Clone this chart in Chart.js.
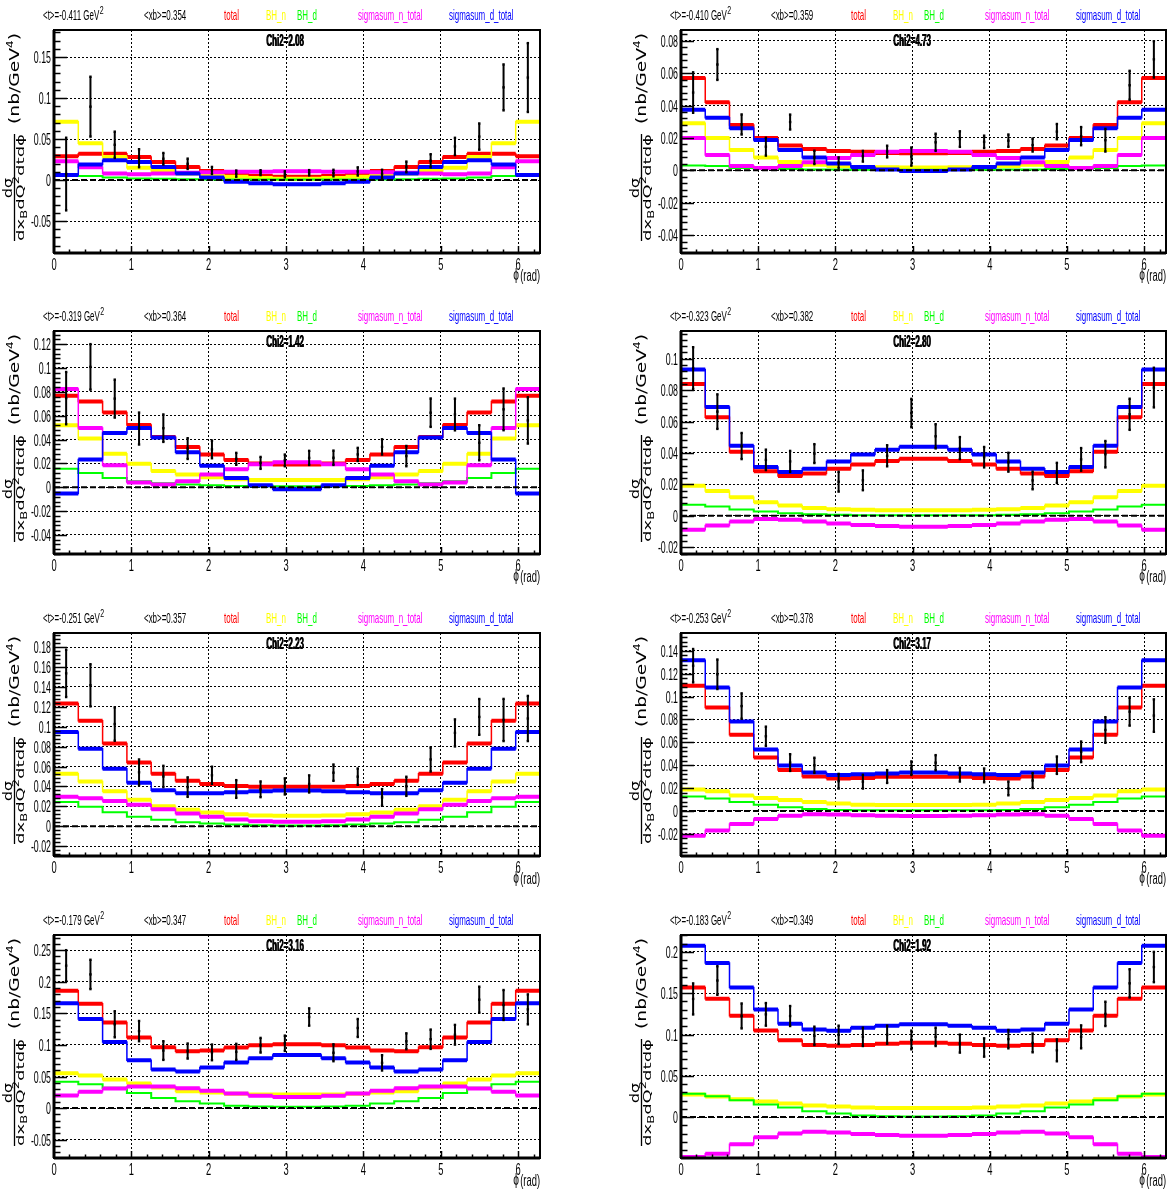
<!DOCTYPE html>
<html><head><meta charset="utf-8">
<script src="https://cdn.jsdelivr.net/npm/chart.js@4.4.1/dist/chart.umd.min.js"></script>
<style>
html,body{margin:0;padding:0;background:#fff;overflow:hidden;width:1170px;height:1190px;}
canvas{position:absolute;}
</style></head><body>
<script>
// ---------- axis / category data ----------
const binEdges = [0,0.3142,0.6283,0.9425,1.2566,1.5708,1.885,2.1991,2.5133,2.8274,3.1416,3.4558,3.7699,4.0841,4.3982,4.7124,5.0265,5.3407,5.6549,5.969,6.2832];
const binCenters = [0.1571,0.4712,0.7854,1.0996,1.4137,1.7279,2.042,2.3562,2.6704,2.9845,3.2987,3.6128,3.927,4.2412,4.5553,4.8695,5.1836,5.4978,5.812,6.1261];
const xTickValues = [0,1,2,3,4,5,6];
const X_MAX = 6.2832;

const tAvg  = ['-0.411','-0.410','-0.319','-0.323','-0.251','-0.253','-0.179','-0.183'];
const xbAvg = ['0.354','0.359','0.364','0.382','0.357','0.378','0.347','0.349'];
const chi2  = ['2.08','4.73','1.42','2.80','2.23','3.17','3.16','1.92'];
const seriesNames = ['total','BH_n','BH_d','sigmasum_n_total','sigmasum_d_total'];

const yMin = [-0.089,-0.051,-0.056,-0.0243,-0.030,-0.0394,-0.079,-0.0495];
const yMax = [0.183,0.0866,0.131,0.1176,0.1943,0.1556,0.274,0.2205];
const yTicks = [
  [-0.05,0,0.05,0.1,0.15],
  [-0.04,-0.02,0,0.02,0.04,0.06,0.08],
  [-0.04,-0.02,0,0.02,0.04,0.06,0.08,0.1,0.12],
  [-0.02,0,0.02,0.04,0.06,0.08,0.1],
  [-0.02,0,0.02,0.04,0.06,0.08,0.1,0.12,0.14,0.16,0.18],
  [-0.02,0,0.02,0.04,0.06,0.08,0.1,0.12,0.14],
  [-0.05,0,0.05,0.1,0.15,0.2,0.25],
  [0,0.05,0.1,0.15,0.2]
];
const yMinorStep = [0.01,0.004,0.004,0.004,0.004,0.004,0.01,0.01];

// ---------- panel 1 ----------
const total1 = [0.029,0.032,0.032,0.028,0.022,0.016,0.011,0.008,0.005,0.004,0.004,0.005,0.008,0.011,0.016,0.022,0.028,0.032,0.032,0.029];
const bhN1 = [0.071,0.045,0.028,0.015,0.011,0.008,0.006,0.004,0.0025,0.0016,0.0016,0.0025,0.004,0.006,0.008,0.011,0.015,0.028,0.045,0.071];
const bhD1 = [0.005,0.005,0.003,0.002,0.0015,0.001,0.0008,0.0006,0.0005,0.0005,0.0005,0.0005,0.0006,0.0008,0.001,0.0015,0.002,0.003,0.005,0.005];
const sigN1 = [0.023,0.0155,0.008,0.007,0.008,0.009,0.0094,0.010,0.010,0.0106,0.0106,0.010,0.010,0.0094,0.009,0.008,0.007,0.008,0.0155,0.023];
const sigD1 = [0.006,0.019,0.024,0.022,0.016,0.008,0.003,-0.002,-0.004,-0.005,-0.005,-0.004,-0.002,0.003,0.008,0.016,0.022,0.024,0.019,0.006];
const data1 = [0.0073,0.0895,0.043,0.0266,0.026,0.0198,0.0117,0.0078,0.009,0.007,0.0089,0.0085,0.0105,0.0075,0.016,0.0235,0.041,0.053,0.113,0.125];
const err1 = [0.0443,0.0365,0.016,0.011,0.007,0.0063,0.0043,0.0038,0.003,0.0037,0.0032,0.004,0.005,0.005,0.0065,0.008,0.0105,0.016,0.028,0.042];
// ---------- panel 2 ----------
const total2 = [0.057,0.042,0.028,0.020,0.0153,0.0132,0.012,0.0114,0.0107,0.0105,0.0105,0.0107,0.0114,0.012,0.0132,0.0153,0.020,0.028,0.042,0.057];
const bhN2 = [0.029,0.020,0.0126,0.0079,0.0052,0.0035,0.0027,0.002,0.0019,0.0017,0.0017,0.0019,0.002,0.0027,0.0035,0.0052,0.0079,0.0126,0.020,0.029];
const bhD2 = [0.003,0.0027,0.0015,0.001,0.0008,0.0006,0.0005,0.0004,0.0004,0.0004,0.0004,0.0004,0.0004,0.0005,0.0006,0.0008,0.001,0.0015,0.0027,0.003];
const sigN2 = [0.020,0.0095,0.0027,0.0014,0.0027,0.005,0.0076,0.0095,0.0114,0.012,0.012,0.0114,0.0095,0.0076,0.005,0.0027,0.0014,0.0027,0.0095,0.020];
const sigD2 = [0.0374,0.0325,0.026,0.0188,0.0126,0.0079,0.0043,0.002,0.0006,-0.0004,-0.0004,0.0006,0.002,0.0043,0.0079,0.0126,0.0188,0.026,0.0325,0.0374];
const data2 = [0.048,0.0653,0.0283,0.0146,0.0298,0.008,0.0047,0.0087,0.0116,0.0085,0.0173,0.0193,0.0176,0.0183,0.0156,0.0239,0.0211,0.0186,0.0525,0.0685];
const err2 = [0.0125,0.0095,0.0062,0.0055,0.0046,0.0041,0.0033,0.0033,0.0036,0.0056,0.0053,0.0048,0.0038,0.0038,0.004,0.0047,0.0056,0.007,0.0089,0.0112];
// ---------- panel 3 ----------
const total3 = [0.0768,0.0718,0.0626,0.0522,0.0422,0.0338,0.0274,0.0229,0.0198,0.019,0.019,0.0198,0.0229,0.0274,0.0338,0.0422,0.0522,0.0626,0.0718,0.0768];
const bhN3 = [0.052,0.0408,0.028,0.0196,0.0137,0.0106,0.0084,0.0067,0.0061,0.006,0.006,0.0061,0.0067,0.0084,0.0106,0.0137,0.0196,0.028,0.0408,0.052];
const bhD3 = [0.0154,0.012,0.0078,0.005,0.0034,0.0022,0.0017,0.001,0.0008,0.0008,0.0008,0.0008,0.001,0.0017,0.0022,0.0034,0.005,0.0078,0.012,0.0154];
const sigN3 = [0.0824,0.0497,0.0184,0.0039,0.0022,0.005,0.0106,0.015,0.0193,0.021,0.021,0.0193,0.015,0.0106,0.005,0.0022,0.0039,0.0184,0.0497,0.0824];
const sigD3 = [-0.0053,0.0232,0.0455,0.0497,0.0416,0.0293,0.0179,0.0078,0.0017,-0.0017,-0.0017,0.0017,0.0078,0.0179,0.0293,0.0416,0.0497,0.0455,0.0232,-0.0053];
const data3 = [0.0747,0.1009,0.0743,0.0492,0.0495,0.0324,0.0317,0.0238,0.0204,0.0225,0.0246,0.0247,0.0275,0.0338,0.0261,0.0625,0.061,0.0373,0.0653,0.056];
const err3 = [0.0219,0.0191,0.0159,0.0134,0.0115,0.0087,0.0074,0.005,0.005,0.0049,0.0059,0.006,0.0055,0.0064,0.0085,0.0119,0.0133,0.0147,0.0175,0.0194];
// ---------- panel 4 ----------
const total4 = [0.0838,0.0627,0.0408,0.0283,0.0253,0.027,0.030,0.0327,0.0348,0.0363,0.0363,0.0348,0.0327,0.030,0.027,0.0253,0.0283,0.0408,0.0627,0.0838];
const bhN4 = [0.0192,0.0158,0.0118,0.0087,0.0065,0.0049,0.0042,0.0038,0.0036,0.0036,0.0036,0.0036,0.0038,0.0042,0.0049,0.0065,0.0087,0.0118,0.0158,0.0192];
const bhD4 = [0.007,0.0059,0.004,0.0027,0.0017,0.001,0.0006,0.0004,0.0004,0.0004,0.0004,0.0004,0.0004,0.0006,0.001,0.0017,0.0027,0.004,0.0059,0.007];
const sigN4 = [-0.0089,-0.0061,-0.0036,-0.0021,-0.0025,-0.0036,-0.0049,-0.0059,-0.0065,-0.007,-0.007,-0.0065,-0.0059,-0.0049,-0.0036,-0.0025,-0.0021,-0.0036,-0.0061,-0.0089];
const sigD4 = [0.0931,0.0693,0.0446,0.031,0.0279,0.030,0.0346,0.039,0.042,0.0439,0.0439,0.042,0.039,0.0346,0.030,0.0279,0.031,0.0446,0.0693,0.0931];
const data4 = [0.094,0.0663,0.0444,0.0356,0.0346,0.0396,0.0217,0.0226,0.0382,0.0654,0.0506,0.0431,0.0373,0.0341,0.0225,0.0273,0.0359,0.0392,0.0646,0.0816];
const err4 = [0.0133,0.011,0.0083,0.0065,0.0067,0.006,0.0063,0.0063,0.0067,0.009,0.0077,0.007,0.0065,0.006,0.0056,0.0064,0.0072,0.0084,0.0099,0.0126];
// ---------- panel 5 ----------
const total5 = [0.1235,0.106,0.0832,0.064,0.0527,0.0456,0.0423,0.0403,0.0396,0.0396,0.0396,0.0396,0.0403,0.0423,0.0456,0.0527,0.064,0.0832,0.106,0.1235];
const bhN5 = [0.0527,0.045,0.0352,0.0265,0.0201,0.0164,0.0138,0.0121,0.0107,0.0104,0.0104,0.0107,0.0121,0.0138,0.0164,0.0201,0.0265,0.0352,0.045,0.0527];
const bhD5 = [0.0242,0.0195,0.0141,0.0094,0.0064,0.004,0.0027,0.0017,0.001,0.0007,0.0007,0.001,0.0017,0.0027,0.004,0.0064,0.0094,0.0141,0.0195,0.0242];
const sigN5 = [0.0295,0.0282,0.0252,0.0215,0.0171,0.0128,0.0094,0.0067,0.005,0.0044,0.0044,0.005,0.0067,0.0094,0.0128,0.0171,0.0215,0.0252,0.0282,0.0295];
const sigD5 = [0.0946,0.0779,0.0577,0.0436,0.0362,0.0332,0.0332,0.0342,0.0352,0.0359,0.0359,0.0352,0.0342,0.0332,0.0332,0.0362,0.0436,0.0577,0.0779,0.0946];
const data5 = [0.1537,0.1417,0.1027,0.0542,0.05,0.0393,0.0512,0.0374,0.0371,0.04,0.0425,0.0538,0.0498,0.0289,0.0401,0.0671,0.0938,0.1099,0.1068,0.1083];
const err5 = [0.0238,0.0212,0.0168,0.0129,0.0107,0.0098,0.0086,0.0089,0.0079,0.0081,0.0086,0.0082,0.0082,0.0084,0.0096,0.0121,0.0136,0.018,0.0212,0.0227];
// ---------- panel 6 ----------
const total6 = [0.1095,0.0905,0.0666,0.0467,0.0359,0.0301,0.0283,0.0289,0.0298,0.0298,0.0298,0.0298,0.0289,0.0283,0.0301,0.0359,0.0467,0.0666,0.0905,0.1095];
const bhN6 = [0.0187,0.0172,0.0134,0.0114,0.0096,0.0079,0.0064,0.0055,0.0053,0.0053,0.0053,0.0053,0.0055,0.0064,0.0079,0.0096,0.0114,0.0134,0.0172,0.0187];
const bhD6 = [0.0126,0.0108,0.0079,0.0055,0.0032,0.0018,0.0009,0.0005,0.0005,0.0005,0.0005,0.0005,0.0005,0.0009,0.0018,0.0032,0.0055,0.0079,0.0108,0.0126];
const sigN6 = [-0.0216,-0.0172,-0.0114,-0.007,-0.0041,-0.0029,-0.0032,-0.0038,-0.0041,-0.0044,-0.0044,-0.0041,-0.0038,-0.0032,-0.0029,-0.0041,-0.007,-0.0114,-0.0172,-0.0216];
const sigD6 = [0.1317,0.108,0.0782,0.0537,0.0397,0.0336,0.0315,0.0321,0.0327,0.0336,0.0336,0.0327,0.0321,0.0315,0.0336,0.0397,0.0537,0.0782,0.108,0.1317];
const data6 = [0.127,0.1195,0.0917,0.0653,0.0423,0.0399,0.026,0.0256,0.0301,0.0374,0.0422,0.0317,0.0311,0.0197,0.0266,0.04,0.0517,0.0708,0.0868,0.0834];
const err6 = [0.0146,0.0129,0.0111,0.0084,0.0073,0.0066,0.0064,0.006,0.0056,0.0059,0.0066,0.006,0.006,0.006,0.0065,0.0076,0.009,0.0112,0.0122,0.0142];
// ---------- panel 7 ----------
const total7 = [0.1858,0.1653,0.1353,0.1116,0.0963,0.09,0.091,0.0958,0.0995,0.101,0.101,0.0995,0.0958,0.091,0.09,0.0963,0.1116,0.1353,0.1653,0.1858];
const bhN7 = [0.0553,0.0516,0.0453,0.039,0.0326,0.0268,0.0247,0.0226,0.0216,0.0216,0.0216,0.0216,0.0226,0.0247,0.0268,0.0326,0.039,0.0453,0.0516,0.0553];
const bhD7 = [0.0416,0.0379,0.0321,0.0237,0.0158,0.011,0.0074,0.0037,0.0026,0.002,0.002,0.0026,0.0037,0.0074,0.011,0.0158,0.0237,0.0321,0.0379,0.0416];
const sigN7 = [0.02,0.0258,0.031,0.0342,0.0342,0.0316,0.0274,0.0232,0.0195,0.0174,0.0174,0.0195,0.0232,0.0274,0.0316,0.0342,0.0342,0.031,0.0258,0.02];
const sigD7 = [0.1658,0.141,0.1047,0.0758,0.061,0.0579,0.0642,0.0721,0.079,0.0842,0.0842,0.079,0.0721,0.0642,0.0579,0.061,0.0758,0.1047,0.141,0.1658];
const data7 = [0.2255,0.2116,0.1327,0.1219,0.0911,0.0903,0.0882,0.089,0.0995,0.1026,0.1442,0.0876,0.1268,0.0716,0.1058,0.109,0.1161,0.1716,0.1632,0.1563];
const err7 = [0.0245,0.0232,0.0206,0.016,0.0148,0.0119,0.0124,0.0127,0.0116,0.0121,0.0137,0.0134,0.0142,0.0121,0.0126,0.0153,0.0156,0.0206,0.0237,0.0237];
// ---------- panel 8 ----------
const total8 = [0.157,0.1433,0.1227,0.105,0.093,0.0873,0.0865,0.0873,0.0889,0.0901,0.0901,0.0889,0.0873,0.0865,0.0873,0.093,0.105,0.1227,0.1433,0.157];
const bhN8 = [0.0274,0.025,0.0217,0.0189,0.0165,0.0141,0.0129,0.0117,0.0109,0.0109,0.0109,0.0109,0.0117,0.0129,0.0141,0.0165,0.0189,0.0217,0.025,0.0274];
const bhD8 = [0.0282,0.0254,0.0205,0.0153,0.0117,0.0072,0.0044,0.002,0.0012,0.0008,0.0008,0.0012,0.002,0.0044,0.0072,0.0117,0.0153,0.0205,0.0254,0.0282];
const sigN8 = [-0.0483,-0.0443,-0.033,-0.0245,-0.0197,-0.0177,-0.0185,-0.0205,-0.0217,-0.0225,-0.0225,-0.0217,-0.0205,-0.0185,-0.0177,-0.0197,-0.0245,-0.033,-0.0443,-0.0483];
const sigD8 = [0.2076,0.1867,0.157,0.1304,0.1131,0.1062,0.1046,0.1082,0.1107,0.1123,0.1123,0.1107,0.1082,0.1046,0.1062,0.1131,0.1304,0.157,0.1867,0.2076];
const data8 = [0.1431,0.1654,0.1225,0.1244,0.1224,0.0984,0.0996,0.0972,0.0998,0.0934,0.0972,0.089,0.0843,0.0944,0.0898,0.0809,0.0972,0.125,0.162,0.1817];
const err8 = [0.0188,0.0173,0.0151,0.0137,0.0121,0.0111,0.0111,0.0111,0.0109,0.0113,0.0111,0.0109,0.0111,0.0111,0.0113,0.0133,0.0139,0.0147,0.0171,0.0183];

const panels = [
  {total:total1,bhN:bhN1,bhD:bhD1,sigN:sigN1,sigD:sigD1,data:data1,err:err1},
  {total:total2,bhN:bhN2,bhD:bhD2,sigN:sigN2,sigD:sigD2,data:data2,err:err2},
  {total:total3,bhN:bhN3,bhD:bhD3,sigN:sigN3,sigD:sigD3,data:data3,err:err3},
  {total:total4,bhN:bhN4,bhD:bhD4,sigN:sigN4,sigD:sigD4,data:data4,err:err4},
  {total:total5,bhN:bhN5,bhD:bhD5,sigN:sigN5,sigD:sigD5,data:data5,err:err5},
  {total:total6,bhN:bhN6,bhD:bhD6,sigN:sigN6,sigD:sigD6,data:data6,err:err6},
  {total:total7,bhN:bhN7,bhD:bhD7,sigN:sigN7,sigD:sigD7,data:data7,err:err7},
  {total:total8,bhN:bhN8,bhD:bhD8,sigN:sigN8,sigD:sigD8,data:data8,err:err8}
];

// ---------- layout / style ----------
const ROW_TOP = [30, 331, 633, 935];
const FRAME_H = 223;
const PAD_TOP = 30;
const CANVAS_H = 286;
const CANVAS_W = 585;
const COLS = [{left:0, FL:54, FR:540}, {left:585, FL:96, FR:582}];
const C = {total:'#ff0000', bhN:'#ffff00', bhD:'#00ff00', sigN:'#ff00ff', sigD:'#0000ff'};
const SANS = '"Liberation Sans", Arial, Helvetica, sans-serif';
const WIDE = '"DejaVu Sans", "Liberation Sans", sans-serif';

function histThick(v){ const d=[]; for(let i=0;i<v.length;i++){ d.push({x:binEdges[i],y:v[i]},{x:binEdges[i+1],y:v[i]},{x:binEdges[i+1],y:null}); } return d; }
function histThin(v){ const d=[]; for(let i=0;i<v.length;i++){ d.push({x:binEdges[i],y:v[i]},{x:binEdges[i+1],y:v[i]}); } return d; }
function errBars(val, er){ const d=[]; for(let i=0;i<val.length;i++){ d.push({x:binCenters[i],y:val[i]-er[i]},{x:binCenters[i],y:val[i]+er[i]},{x:binCenters[i],y:null}); } return d; }
function errMarks(val, er){ const d=[]; for(let i=0;i<val.length;i++){ d.push({x:binCenters[i],y:val[i]-er[i]},{x:binCenters[i],y:val[i]},{x:binCenters[i],y:val[i]+er[i]}); } return d; }

function txt(ctx, s, x, y, o){
  o = o || {};
  ctx.save();
  ctx.font = (o.bold?'bold ':'') + (o.size||16) + 'px ' + (o.family||SANS);
  ctx.fillStyle = o.color || '#000';
  ctx.textBaseline = 'alphabetic';
  ctx.translate(x, y);
  ctx.scale(o.sx||1, 1);
  const w = ctx.measureText(s).width;
  let dx = 0;
  if (o.align === 'right') dx = -w; else if (o.align === 'center') dx = -w/2;
  ctx.fillText(s, dx, 0);
  ctx.restore();
  return w*(o.sx||1);
}
function fmtTick(v){ const s = parseFloat(v.toFixed(4)).toString(); return s === '-0' ? '0' : s; }

function rotRun(ctx, pieces, baseX, startY, targetLen){
  ctx.save();
  let total = 0;
  pieces.forEach(p => { ctx.font = p.size + 'px ' + WIDE; p.w = ctx.measureText(p.s).width; total += p.w; });
  const k = targetLen / total;
  ctx.translate(baseX, startY);
  ctx.rotate(-Math.PI/2);
  ctx.scale(k, 1);
  ctx.fillStyle = '#000';
  let u = 0;
  pieces.forEach(p => { ctx.font = p.size + 'px ' + WIDE; ctx.fillText(p.s, u, p.dv||0); u += p.w; });
  ctx.restore();
}

function makeDeco(p){
  return {
    id: 'deco' + p,
    afterDraw(chart){
      const ctx = chart.ctx, a = chart.chartArea;
      const xs = chart.scales.x, ys = chart.scales.y;
      const FL = a.left, FR = a.right, FT = a.top, FB = a.bottom;
      ctx.save();
      ctx.strokeStyle = '#000'; ctx.lineWidth = 1.5;
      const ms = yMinorStep[p];
      const k0 = Math.ceil(yMin[p]/ms - 1e-9), k1 = Math.floor(yMax[p]/ms + 1e-9);
      for (let k = k0; k <= k1; k++){
        const y = Math.round(ys.getPixelForValue(k*ms)) + 0.5;
        const major = (Math.abs(k) % 5) === 0;
        ctx.beginPath(); ctx.moveTo(FL, y); ctx.lineTo(FL + (major ? 13 : 6.5), y); ctx.stroke();
      }
      for (let k = 1; k <= 31; k++){
        const x = Math.round(xs.getPixelForValue(k*0.2)) + 0.5;
        const major = (k % 5) === 0;
        ctx.beginPath(); ctx.moveTo(x, FB); ctx.lineTo(x, FB - (major ? 7 : 3.5)); ctx.stroke();
      }
      ctx.lineWidth = 2;
      ctx.strokeRect(FL, FT, FR - FL, FB - FT);
      ctx.lineWidth = 3;
      ctx.beginPath(); ctx.moveTo(FL, FT); ctx.lineTo(FL, FB); ctx.stroke();
      ctx.beginPath(); ctx.moveTo(FL, FB); ctx.lineTo(FR, FB); ctx.stroke();
      yTicks[p].forEach(v => txt(ctx, fmtTick(v), FL - 3, ys.getPixelForValue(v) + 6, {size:16, sx:0.55, align:'right'}));
      xTickValues.forEach(v => txt(ctx, String(v), xs.getPixelForValue(v), FB + 17, {size:17, sx:0.55, align:'center'}));
      txt(ctx, 'ϕ', FR - 21, FB + 27, {size:17, sx:0.6, align:'right'});
      txt(ctx, '(rad)', FR, FB + 28, {size:17, sx:0.55, align:'right'});
      const hy = FT - 10;
      let w = txt(ctx, '<t>=' + tAvg[p] + ' GeV', FL - 11, hy, {size:15, sx:0.53});
      txt(ctx, '2', FL - 11 + w + 0.5, hy - 6.5, {size:10, sx:0.7});
      txt(ctx, '<xb>=' + xbAvg[p], FL + 90, hy, {size:15, sx:0.53});
      txt(ctx, seriesNames[0], FL + 170, hy, {size:15, sx:0.53, color:C.total});
      txt(ctx, seriesNames[1], FL + 212, hy, {size:15, sx:0.53, color:C.bhN});
      txt(ctx, seriesNames[2], FL + 243, hy, {size:15, sx:0.53, color:C.bhD});
      txt(ctx, seriesNames[3], FL + 304, hy, {size:15, sx:0.53, color:C.sigN});
      txt(ctx, seriesNames[4], FL + 395, hy, {size:15, sx:0.53, color:C.sigD});
      txt(ctx, 'Chi2=' + chi2[p], FL + 212, FT + 15.5, {size:16, bold:true, sx:0.5});
      txt(ctx, 'Chi2=' + chi2[p], FL + 212.7, FT + 15.5, {size:16, bold:true, sx:0.5});
      rotRun(ctx, [{s:'(nb/GeV', size:14},{s:'4', size:9, dv:-6},{s:')', size:14}], FL - 35, FT + 94, 91);
      ctx.strokeStyle = '#000'; ctx.lineWidth = 1.3;
      ctx.beginPath(); ctx.moveTo(FL - 39.5, FT + 104); ctx.lineTo(FL - 39.5, FT + 211); ctx.stroke();
      rotRun(ctx, [{s:'dσ', size:13}], FL - 42, FT + 168, 20);
      rotRun(ctx, [{s:'dx', size:11},{s:'B', size:8, dv:3},{s:'dQ', size:11},{s:'2', size:8, dv:-5},{s:'dtdϕ', size:11}], FL - 30.5, FT + 211, 107);
      ctx.restore();
    }
  };
}

function lineDs(data, color, width, extra){
  return Object.assign({type:'line', data:data, borderColor:color, backgroundColor:color, borderWidth:width,
    pointRadius:0, fill:false, tension:0, spanGaps:false, borderCapStyle:'butt', borderJoinStyle:'miter'}, extra||{});
}

panels.forEach((P, p) => {
  const col = COLS[p % 2];
  const row = Math.floor(p / 2);
  const cv = document.createElement('canvas');
  cv.width = CANVAS_W; cv.height = CANVAS_H;
  cv.style.left = col.left + 'px';
  cv.style.top = (ROW_TOP[row] - PAD_TOP) + 'px';
  cv.style.width = CANVAS_W + 'px'; cv.style.height = CANVAS_H + 'px';
  document.body.appendChild(cv);

  const datasets = [
    lineDs(errMarks(P.data, P.err), '#000', 0, {showLine:false, pointRadius:1.7, pointStyle:'rect', pointBorderWidth:0, pointBackgroundColor:'#000'}),
    lineDs(errBars(P.data, P.err), '#000', 2),
    lineDs([{x:0,y:0},{x:X_MAX,y:0}], '#000', 2, {borderDash:[6,3]}),
    lineDs(histThick(P.sigD), C.sigD, 4),
    lineDs(histThin(P.sigD), C.sigD, 1.5),
    lineDs(histThick(P.sigN), C.sigN, 4),
    lineDs(histThin(P.sigN), C.sigN, 1.5),
    lineDs(histThin(P.bhD), C.bhD, 2),
    lineDs(histThick(P.bhN), C.bhN, 4),
    lineDs(histThin(P.bhN), C.bhN, 1.5),
    lineDs(histThick(P.total), C.total, 4),
    lineDs(histThin(P.total), C.total, 1.5)
  ];

  new Chart(cv, {
    type: 'line',
    data: {datasets},
    options: {
      responsive: false, devicePixelRatio: 1, animation: false, events: [],
      layout: {padding: {top: PAD_TOP, right: CANVAS_W - col.FR, left: 0, bottom: 0}},
      plugins: {legend: {display:false}, tooltip: {enabled:false}, title: {display:false}},
      scales: {
        x: {type:'linear', min:0, max:X_MAX, offset:false,
            grid:{color:'#000', lineWidth:1, drawTicks:false}, border:{display:false, dash:[2,2]},
            ticks:{display:false},
            afterBuildTicks: s => { s.ticks = xTickValues.map(v => ({value:v})); },
            afterFit: s => { s.height = CANVAS_H - PAD_TOP - FRAME_H; }},
        y: {type:'linear', min:yMin[p], max:yMax[p],
            grid:{color:'#000', lineWidth:1, drawTicks:false}, border:{display:false, dash:[2,2]},
            ticks:{display:false},
            afterBuildTicks: s => { s.ticks = yTicks[p].map(v => ({value:v})); },
            afterFit: s => { s.width = col.FL; }}
      }
    },
    plugins: [makeDeco(p)]
  });
});
</script>
</body></html>
